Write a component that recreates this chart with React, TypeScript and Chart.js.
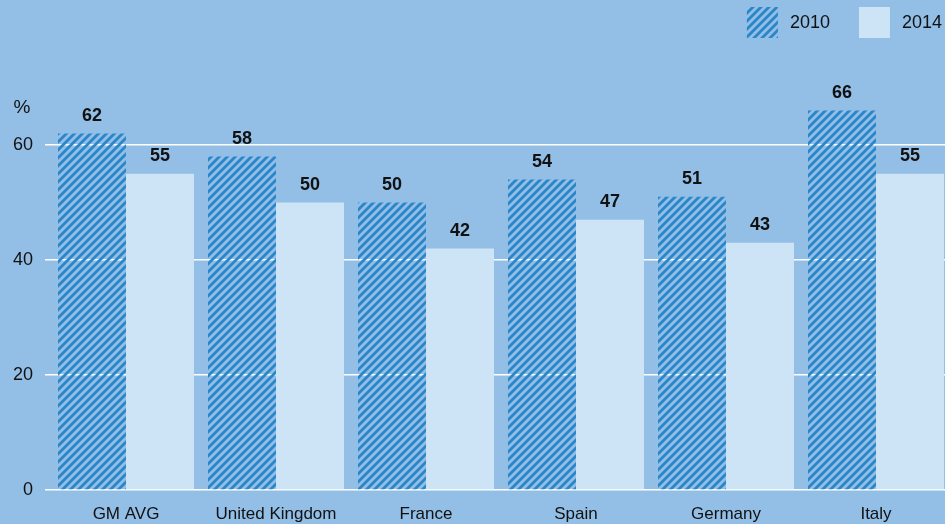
import React, { useEffect, useRef } from "react";
import { Chart, registerables } from "chart.js";

Chart.register(...registerables);

const categories = ["GM AVG", "United Kingdom", "France", "Spain", "Germany", "Italy"];
const series2010 = [62, 58, 50, 54, 51, 66];
const series2014 = [55, 50, 42, 47, 43, 55];
const seriesLabels = ["2010", "2014"];
const yTickValues = [0, 20, 40, 60];
const yUnit = "%";

const BG = "#93BEE5";
const STRIPE = "#2987C9";
const SOLID = "#CDE3F6";
const FONT = "'Liberation Sans', Arial, Helvetica, sans-serif";

function makeHatch(): CanvasPattern | string {
  const c = document.createElement("canvas");
  c.width = 8;
  c.height = 8;
  const ctx = c.getContext("2d");
  if (!ctx) return STRIPE;
  ctx.strokeStyle = STRIPE;
  ctx.lineWidth = 2.8;
  ctx.beginPath();
  ctx.moveTo(0, 8);
  ctx.lineTo(8, 0);
  ctx.moveTo(-2, 2);
  ctx.lineTo(2, -2);
  ctx.moveTo(6, 10);
  ctx.lineTo(10, 6);
  ctx.stroke();
  const p = ctx.createPattern(c, "repeat");
  return p || STRIPE;
}

const valueLabelPlugin = {
  id: "valueLabels",
  afterDatasetsDraw(chart: any) {
    const ctx = chart.ctx;
    ctx.save();
    ctx.font = `bold 18px ${FONT}`;
    ctx.fillStyle = "#111";
    ctx.textAlign = "center";
    ctx.textBaseline = "alphabetic";
    chart.data.datasets.forEach((ds: any, di: number) => {
      const meta = chart.getDatasetMeta(di);
      meta.data.forEach((el: any, i: number) => {
        ctx.fillText(String(ds.data[i]), el.x, el.y - 13);
      });
    });
    ctx.restore();
  },
};

const unitPlugin = {
  id: "unitLabel",
  afterDraw(chart: any) {
    const ctx = chart.ctx;
    const y = chart.scales.y;
    ctx.save();
    ctx.font = `19px ${FONT}`;
    ctx.fillStyle = "#111";
    ctx.textAlign = "center";
    ctx.textBaseline = "middle";
    ctx.fillText(yUnit, 22, y.getPixelForValue(66.5));
    ctx.restore();
  },
};

const legendPlugin = {
  id: "customLegend",
  afterDraw(chart: any) {
    const ctx = chart.ctx;
    ctx.save();
    ctx.font = `18px ${FONT}`;
    const box = 31;
    const gapText = 12;
    const gapItem = 29;
    const items = chart.data.datasets.map((ds: any) => ({
      text: ds.label,
      fill: ds.backgroundColor,
      w: box + gapText + ctx.measureText(ds.label).width,
    }));
    const total = items.reduce((s: number, it: any) => s + it.w, 0) + gapItem * (items.length - 1);
    let x = 942 - total;
    const top = 7;
    items.forEach((it: any) => {
      ctx.fillStyle = it.fill;
      ctx.fillRect(x, top, box, box);
      ctx.fillStyle = "#111";
      ctx.textAlign = "left";
      ctx.textBaseline = "middle";
      ctx.fillText(it.text, x + box + gapText, top + box / 2 + 1);
      x += it.w + gapItem;
    });
    ctx.restore();
  },
};

export default function App() {
  const ref = useRef<HTMLCanvasElement | null>(null);
  useEffect(() => {
    if (!ref.current) return;
    const hatch = makeHatch();
    const chart = new Chart(ref.current, {
      type: "bar",
      data: {
        labels: categories,
        datasets: [
          {
            label: seriesLabels[0],
            data: series2010,
            backgroundColor: hatch as any,
            borderWidth: 0,
            categoryPercentage: 136 / 150,
            barPercentage: 1,
          },
          {
            label: seriesLabels[1],
            data: series2014,
            backgroundColor: SOLID,
            borderWidth: 0,
            categoryPercentage: 136 / 150,
            barPercentage: 1,
          },
        ],
      },
      options: {
        animation: false,
        responsive: false,
        maintainAspectRatio: false,
        layout: { padding: { top: 30, left: 0, right: 0, bottom: 0 } },
        plugins: {
          legend: { display: false },
          tooltip: { enabled: false },
          title: { display: false },
        },
        scales: {
          x: {
            grid: { display: false },
            border: { display: false },
            ticks: {
              color: "#111",
              font: { family: FONT, size: 17 },
              padding: 6,
              maxRotation: 0,
              autoSkip: false,
            },
            afterFit(scale: any) {
              scale.height = 34;
            },
          },
          y: {
            min: 0,
            max: 80,
            border: { display: false },
            grid: {
              color: "#FFFFFF",
              lineWidth: 1.5,
              drawTicks: true,
              tickLength: 6,
            },
            ticks: {
              stepSize: 20,
              color: "#111",
              font: { family: FONT, size: 18 },
              padding: 12,
            },
            afterBuildTicks(scale: any) {
              scale.ticks = yTickValues.map((v) => ({ value: v }));
            },
            afterFit(scale: any) {
              scale.width = 51;
            },
          },
        },
      },
      plugins: [valueLabelPlugin, unitPlugin, legendPlugin],
    });
    return () => chart.destroy();
  }, []);

  return (
    <div
      style={{
        position: "fixed",
        left: 0,
        top: 0,
        width: 945,
        height: 524,
        overflow: "hidden",
        background: BG,
      }}
    >
      <canvas ref={ref} width={951} height={524} style={{ width: 951, height: 524, display: "block" }} />
    </div>
  );
}
